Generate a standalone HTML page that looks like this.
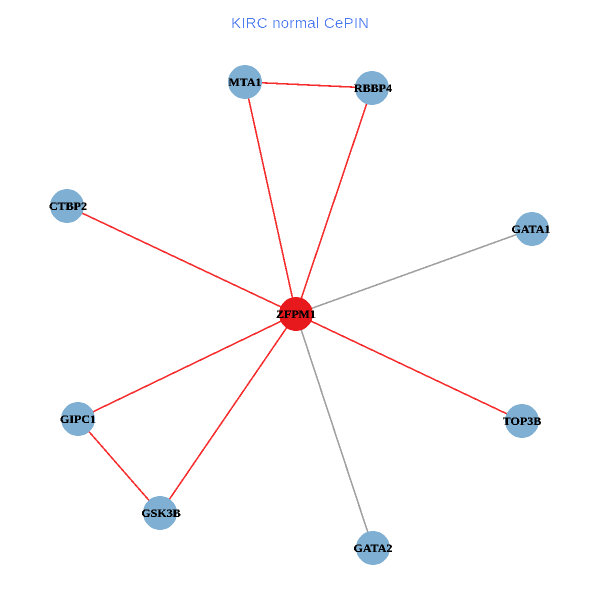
<!DOCTYPE html>
<html><head><meta charset="utf-8"><style>
html,body{margin:0;padding:0;background:#fff;width:600px;height:600px;overflow:hidden}
svg{display:block}
.l{font-family:"Liberation Serif",serif;font-weight:bold;font-size:12px;text-anchor:middle;fill:#000;filter:url(#aliasBold)}
</style></head><body>
<svg width="600" height="600" viewBox="0 0 600 600" xmlns="http://www.w3.org/2000/svg">
<defs>
<filter id="aliasBold" x="-10%" y="-30%" width="120%" height="160%" color-interpolation-filters="sRGB">
<feComponentTransfer><feFuncA type="discrete" tableValues="0 1 1 1"/></feComponentTransfer>
</filter>
<filter id="aliasTitle" x="-5%" y="-30%" width="110%" height="160%" color-interpolation-filters="sRGB">
<feComponentTransfer><feFuncA type="discrete" tableValues="0 0 0 1"/></feComponentTransfer>
</filter>
</defs>
<text x="300" y="28" text-anchor="middle" textLength="138" lengthAdjust="spacing" font-family="Liberation Sans,sans-serif" font-size="15" fill="#4a78f0" filter="url(#aliasTitle)">KIRC normal CePIN</text>
<g stroke-width="1.6" fill="none" shape-rendering="crispEdges">
<g stroke="#f62c2c">
<line x1="245" y1="82" x2="372" y2="88"/>
<line x1="245" y1="82" x2="296" y2="314"/>
<line x1="372" y1="88" x2="296" y2="314"/>
<line x1="67" y1="206" x2="296" y2="314"/>
<line x1="78" y1="419" x2="296" y2="314"/>
<line x1="160" y1="513" x2="296" y2="314"/>
<line x1="78" y1="419" x2="160" y2="513"/>
<line x1="522" y1="421" x2="296" y2="314"/>
</g>
<g stroke="#a0a0a0">
<line x1="532" y1="229" x2="296" y2="314"/>
<line x1="373" y1="548" x2="296" y2="314"/>
</g>
</g>
<g fill="#7fb0d3" shape-rendering="crispEdges">
<circle cx="245" cy="82" r="17"/>
<circle cx="372" cy="88" r="17"/>
<circle cx="67" cy="206" r="17"/>
<circle cx="532" cy="229" r="17"/>
<circle cx="78" cy="419" r="17"/>
<circle cx="522" cy="421" r="17"/>
<circle cx="160" cy="513" r="17"/>
<circle cx="373" cy="548" r="17"/>
</g>
<circle cx="296" cy="314" r="17" fill="#e8191c" shape-rendering="crispEdges"/>
<text class="l" x="245" y="86">MTA1</text>
<text class="l" x="373" y="92">RBBP4</text>
<text class="l" x="68" y="210">CTBP2</text>
<text class="l" x="531" y="233">GATA1</text>
<text class="l" x="296" y="318">ZFPM1</text>
<text class="l" x="78" y="423">GIPC1</text>
<text class="l" x="522" y="425">TOP3B</text>
<text class="l" x="161" y="517">GSK3B</text>
<text class="l" x="373" y="552">GATA2</text>
</svg>
</body></html>
